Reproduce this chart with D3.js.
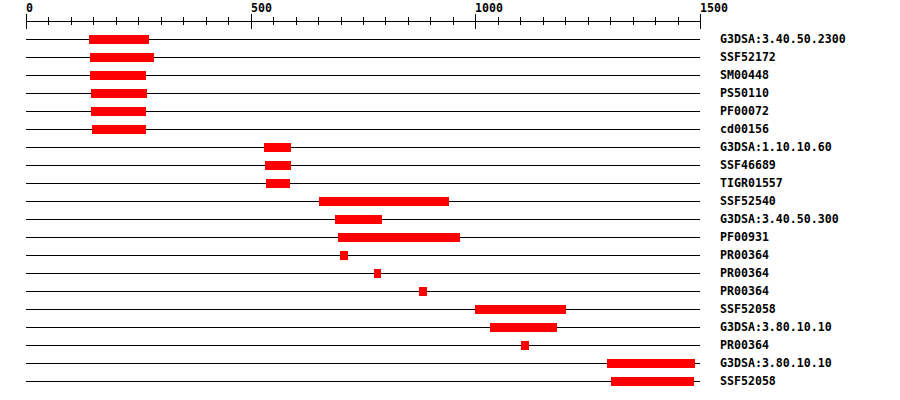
<!DOCTYPE html>
<html>
<head>
<meta charset="utf-8">
<script src="https://cdn.jsdelivr.net/npm/d3@7"></script>
<style>
  body { margin: 0; background: #fff; }
  text { font-family: "DejaVu Sans Mono", "Liberation Mono", monospace; font-weight: bold; font-size: 11.6px; }
</style>
</head>
<body>
<div class="chart"></div>
<script>
var svgWidth = 900;
var svgHeight = 400;

// feature names, one per track
var names = ["G3DSA:3.40.50.2300", "SSF52172", "SM00448", "PS50110", "PF00072", "cd00156",
  "G3DSA:1.10.10.60", "SSF46689", "TIGR01557", "SSF52540", "G3DSA:3.40.50.300", "PF00931",
  "PR00364", "PR00364", "PR00364", "SSF52058", "G3DSA:3.80.10.10", "PR00364",
  "G3DSA:3.80.10.10", "SSF52058"];
// start / end positions (residues)
var starts = [140, 142, 142, 145, 145, 147, 530, 532, 534, 652, 688, 694, 699, 774, 875, 999, 1033, 1102, 1293, 1302];
var ends   = [274, 285, 267, 269, 267, 267, 590, 590, 588, 941, 792, 966, 717, 790, 892, 1202, 1182, 1120, 1489, 1487];
var majorTicks = [0, 500, 1000, 1500];

var x = d3.scaleLinear().domain([0, 1500]).range([26, 700]);
var y = d3.scalePoint().domain(d3.range(names.length)).range([39, 381]);

var svg = d3.select(".chart").append("svg")
  .attr("width", svgWidth)
  .attr("height", svgHeight);

// top ruler
var ruler = svg.append("g");
ruler.append("line")
  .attr("x1", x(0)).attr("x2", x(1500))
  .attr("y1", 21.5).attr("y2", 21.5)
  .attr("stroke", "#000");
ruler.selectAll(".minor")
  .data(d3.range(0, 1501, 50))
  .enter().append("line")
  .attr("x1", d => Math.round(x(d)) + 0.5)
  .attr("x2", d => Math.round(x(d)) + 0.5)
  .attr("y1", d => d % 500 === 0 ? 14 : 17)
  .attr("y2", d => d % 500 === 0 ? 29 : 25)
  .attr("stroke", "#000");
ruler.selectAll(".lab")
  .data(majorTicks)
  .enter().append("text")
  .attr("x", d => Math.round(x(d)))
  .attr("y", 12)
  .text(d => d);

// tracks
var rows = svg.selectAll(".row")
  .data(names)
  .enter().append("g")
  .attr("transform", (d, i) => `translate(0, ${Math.round(y(i))})`);

rows.append("line")
  .attr("x1", x(0)).attr("x2", x(1500))
  .attr("y1", 0.5).attr("y2", 0.5)
  .attr("stroke", "#000");

rows.append("rect")
  .attr("x", (d, i) => Math.round(x(starts[i])))
  .attr("width", (d, i) => Math.round(x(ends[i])) - Math.round(x(starts[i])))
  .attr("y", -4)
  .attr("height", 9)
  .attr("fill", "#ff0000");

rows.append("text")
  .attr("x", 720)
  .attr("y", 4)
  .text(d => d);
</script>
</body>
</html>
